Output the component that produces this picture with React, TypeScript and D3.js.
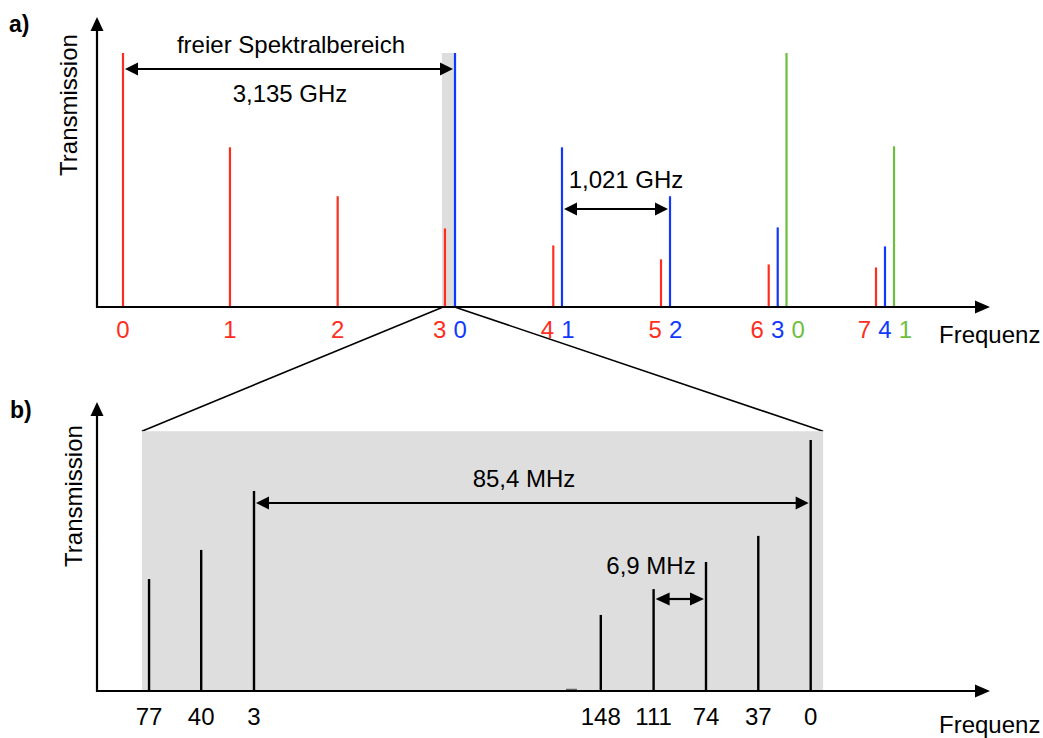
import React from "react";
import * as d3 from "d3";

// ---------- Panel a data (frequency in GHz, relative transmission) ----------
const redModes = [0, 1, 2, 3, 4, 5, 6, 7];
const redFreq = [0, 1.01, 2.027, 3.04, 4.063, 5.08, 6.097, 7.11];
const redTrans = [1.0, 0.628, 0.435, 0.308, 0.241, 0.186, 0.166, 0.154];

const blueModes = [0, 1, 2, 3, 4];
const blueFreq = [3.135, 4.145, 5.165, 6.182, 7.195];
const blueTrans = [1.0, 0.628, 0.435, 0.312, 0.237];

const greenModes = [0, 1];
const greenFreq = [6.265, 7.28];
const greenTrans = [1.0, 0.632];

const fsrLabel = "freier Spektralbereich";
const fsrValue = "3,135 GHz";
const spacingValue = "1,021 GHz";

// ---------- Panel b data (relative frequency in MHz) ----------
const modesB = [77, 40, 3, 148, 111, 74, 37, 0];
const freqB = [-101.5, -93.5, -85.4, -32.2, -24.1, -16.06, -8.04, 0];
const transB = [0.446, 0.562, 0.797, 0.303, 0.406, 0.514, 0.618, 1.0];
const bandB = [-102.6, 1.9];
const bigValue = "85,4 MHz";
const smallValue = "6,9 MHz";

const W = 1043;
const H = 738;
const FONT = "'Liberation Sans', Arial, Helvetica, sans-serif";
const RED = "#ff2d1e";
const BLUE = "#1238ff";
const GREEN = "#6cbf3e";
const GRAY = "#dedede";

const xA = d3.scaleLinear().domain([0, 7.28]).range([123, 894]);
const yA = d3.scaleLinear().domain([0, 1]).range([306.5, 53]);
const xB = d3.scaleLinear().domain([-85.4, 0]).range([254, 810.7]);
const yB = d3.scaleLinear().domain([0, 1]).range([691, 440]);

const baseA = yA(0);
const baseB = yB(0);

function headPts(tipX: number, tipY: number, dir: "l" | "r" | "u", len: number, half: number) {
  if (dir === "r") return `${tipX},${tipY} ${tipX - len},${tipY - half} ${tipX - len},${tipY + half}`;
  if (dir === "l") return `${tipX},${tipY} ${tipX + len},${tipY - half} ${tipX + len},${tipY + half}`;
  return `${tipX},${tipY} ${tipX - half},${tipY + len} ${tipX + half},${tipY + len}`;
}

function DoubleArrow({ x1, x2, y, len = 13, half = 6.5 }: { x1: number; x2: number; y: number; len?: number; half?: number }) {
  const a = x1 + 2;
  const b = x2 - 2;
  return (
    <g>
      <line x1={a + len - 1} x2={b - len + 1} y1={y} y2={y} stroke="#000" strokeWidth={2.2} />
      <polygon points={headPts(a, y, "l", len, half)} fill="#000" />
      <polygon points={headPts(b, y, "r", len, half)} fill="#000" />
    </g>
  );
}

function Axes({ base, top }: { base: number; top: number }) {
  const x0 = 97;
  const xEnd = 990;
  return (
    <g>
      <line x1={x0} x2={x0} y1={base + 1} y2={top + 12} stroke="#000" strokeWidth={2.2} />
      <polygon points={headPts(x0, top, "u", 14, 6.5)} fill="#000" />
      <line x1={x0 - 1} x2={xEnd - 14} y1={base} y2={base} stroke="#000" strokeWidth={2.2} />
      <polygon points={headPts(xEnd, base, "r", 15, 6.5)} fill="#000" />
    </g>
  );
}

type Line = { x: number; t: number; color: string; label: number };

export default function App() {
  const linesA: Line[] = [
    ...redFreq.map((f, i) => ({ x: xA(f), t: redTrans[i], color: RED, label: redModes[i] })),
    ...blueFreq.map((f, i) => ({ x: xA(f), t: blueTrans[i], color: BLUE, label: blueModes[i] })),
    ...greenFreq.map((f, i) => ({ x: xA(f), t: greenTrans[i], color: GREEN, label: greenModes[i] })),
  ];
  // cluster nearby lines so their labels are spread apart
  const sorted = [...linesA].sort((a, b) => a.x - b.x);
  const groups: Line[][] = [];
  sorted.forEach((l) => {
    const g = groups[groups.length - 1];
    if (g && l.x - g[g.length - 1].x < 15) g.push(l);
    else groups.push([l]);
  });
  const labelsA: { x: number; color: string; text: number }[] = [];
  groups.forEach((g) => {
    const m = d3.mean(g, (d) => d.x) as number;
    g.forEach((l, i) => labelsA.push({ x: m + (i - (g.length - 1) / 2) * 20.5, color: l.color, text: l.label }));
  });

  const bandAx0 = xA(redFreq[3]) - 3;
  const bandAx1 = xA(blueFreq[0]) + 1;
  const bandBx0 = xB(bandB[0]);
  const bandBx1 = xB(bandB[1]);
  const bandBTop = yB(1.035);

  return (
    <svg width={W} height={H} style={{ position: "absolute", left: 0, top: 0, background: "#fff" }} fontFamily={FONT}>
      <rect x={0} y={0} width={W} height={H} fill="#fff" />

      {/* ---------- Panel a ---------- */}
      <text x={9} y={32} fontSize={23} fontWeight="bold">a)</text>
      <text transform={`translate(77,105) rotate(-90)`} textAnchor="middle" fontSize={24}>Transmission</text>

      <rect x={bandAx0} y={yA(1)} width={bandAx1 - bandAx0} height={baseA - yA(1)} fill={GRAY} />

      {linesA.map((l, i) => (
        <line key={i} x1={l.x} x2={l.x} y1={baseA} y2={yA(l.t)} stroke={l.color} strokeWidth={2.2} />
      ))}

      <Axes base={baseA + 0.5} top={17} />

      {labelsA.map((l, i) => (
        <text key={i} x={l.x} y={338} textAnchor="middle" fontSize={24} fill={l.color}>{l.text}</text>
      ))}
      <text x={939} y={343} fontSize={24}>Frequenz</text>

      <text x={291} y={53} textAnchor="middle" fontSize={24}>{fsrLabel}</text>
      <DoubleArrow x1={xA(redFreq[0])} x2={xA(blueFreq[0])} y={69} />
      <text x={290} y={102} textAnchor="middle" fontSize={24}>{fsrValue}</text>

      <text x={626} y={188} textAnchor="middle" fontSize={24}>{spacingValue}</text>
      <DoubleArrow x1={xA(blueFreq[1])} x2={xA(blueFreq[2])} y={209} />

      {/* zoom lines */}
      <line x1={bandAx0} y1={baseA + 1} x2={bandBx0} y2={bandBTop} stroke="#000" strokeWidth={1.6} />
      <line x1={bandAx1} y1={baseA + 1} x2={bandBx1} y2={bandBTop} stroke="#000" strokeWidth={1.6} />

      {/* ---------- Panel b ---------- */}
      <text x={10} y={418} fontSize={23} fontWeight="bold">b)</text>
      <text transform={`translate(82,496) rotate(-90)`} textAnchor="middle" fontSize={24}>Transmission</text>

      <rect x={bandBx0} y={bandBTop} width={bandBx1 - bandBx0} height={baseB - bandBTop} fill={GRAY} />
      <line x1={566} x2={577} y1={689.5} y2={689.5} stroke="#666" strokeWidth={1.5} />

      {freqB.map((f, i) => (
        <line key={i} x1={xB(f)} x2={xB(f)} y1={baseB} y2={yB(transB[i])} stroke="#000" strokeWidth={2.4} />
      ))}

      <Axes base={baseB} top={402} />

      {freqB.map((f, i) => (
        <text key={i} x={xB(f)} y={725} textAnchor="middle" fontSize={24}>{modesB[i]}</text>
      ))}
      <text x={939} y={733} fontSize={24}>Frequenz</text>

      <text x={524} y={487} textAnchor="middle" fontSize={24}>{bigValue}</text>
      <DoubleArrow x1={xB(freqB[2])} x2={xB(freqB[7])} y={503} />

      <text x={651} y={574} textAnchor="middle" fontSize={24}>{smallValue}</text>
      <DoubleArrow x1={xB(freqB[4])} x2={xB(freqB[5])} y={599} len={14} />
    </svg>
  );
}
